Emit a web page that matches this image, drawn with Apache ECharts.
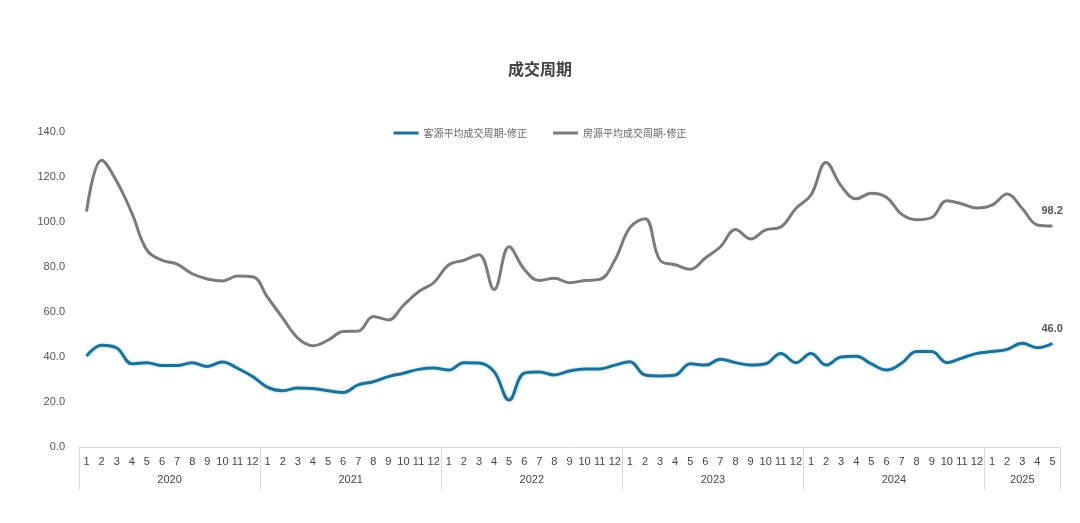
<!DOCTYPE html>
<html>
<head>
<meta charset="utf-8">
<script src="https://cdn.jsdelivr.net/npm/echarts@6/dist/echarts.min.js"></script>
<style>
  html, body { margin: 0; padding: 0; background: #fff; }
  #chart { width: 1080px; height: 523px; }
</style>
</head>
<body>
<div id="chart"></div>
<script>
// Months shown per year (2025 only through May)
const years = ['2020', '2021', '2022', '2023', '2024', '2025'];
const monthsPerYear = [12, 12, 12, 12, 12, 5];

// 客源平均成交周期-修正 (days)
const buyerCycle = [
  40.4, 45.2, 44.0, 37.0, 37.5, 36.2, 36.2, 37.5, 35.8, 37.8, 35.0, 31.3,
  26.5, 25.0, 26.2, 26.0, 25.0, 24.2, 27.6, 29.0, 31.3, 32.8, 34.5, 35.1,
  34.2, 37.5, 37.3, 33.5, 20.9, 32.8, 33.3, 32.0, 33.8, 34.7, 34.7, 36.4,
  37.9, 32.0, 31.6, 32.0, 37.0, 36.4, 39.0, 37.5, 36.4, 37.0, 41.6, 37.5,
  41.6, 36.4, 40.0, 40.3, 36.9, 34.2, 37.2, 42.4, 42.4, 37.5, 39.5, 41.6,
  42.4, 43.4, 46.1, 44.1, 46.0
];

// 房源平均成交周期-修正 (days)
const listingCycle = [
  104.6, 127.5, 118.0, 104.0, 87.5, 83.0, 81.3, 77.0, 74.7, 73.8, 76.0, 75.7,
  66.5, 57.3, 48.4, 45.0, 47.5, 51.3, 51.5, 58.0, 56.5, 63.0, 69.0, 73.0,
  81.0, 83.0, 85.5, 70.0, 89.0, 79.0, 74.0, 75.0, 73.0, 74.0, 74.5, 83.0,
  97.5, 101.5, 83.0, 81.0, 79.0, 84.0, 89.0, 96.7, 92.5, 96.5, 97.8, 106.0,
  112.0, 126.4, 116.0, 110.3, 112.8, 111.0, 103.5, 101.0, 102.0, 109.5, 108.0, 106.2,
  107.5, 112.4, 106.0, 98.7, 98.2
];

const yTicks = [0, 20, 40, 60, 80, 100, 120, 140];

// Month category labels built from the year layout
const monthLabels = [];
const yearStarts = [0];
const yearCenters = [];
monthsPerYear.forEach((n, k) => {
  yearCenters.push(yearStarts[k] + n / 2);
  for (let m = 1; m <= n; m++) monthLabels.push(String(m));
  yearStarts.push(yearStarts[k] + n);
});

// Value of the latest month, written just above the line end
const latestLabel = {
  show: true,
  distance: 0,
  offset: [-11, -15],
  color: '#555',
  fontSize: 11,
  fontWeight: 'bold',
  fontFamily: 'Liberation Sans, Arial, sans-serif',
  formatter: (p) => Number(p.value).toFixed(1)
};

const chart = echarts.init(document.getElementById('chart'));
chart.setOption({
  backgroundColor: '#ffffff',
  animation: false,
  title: {
    text: '成交周期',
    left: 'center',
    top: 56,
    textStyle: { fontSize: 16, fontWeight: 'bold', color: '#444', fontFamily: 'Noto Sans CJK SC' }
  },
  legend: {
    top: 123,
    left: 'center',
    itemWidth: 25,
    itemHeight: 3,
    itemGap: 26,
    icon: 'rect',
    textStyle: { fontSize: 10, color: '#666', fontFamily: 'Noto Sans CJK SC' },
    data: ['客源平均成交周期-修正', '房源平均成交周期-修正']
  },
  grid: { left: 79, right: 20, top: 132, bottom: 76 },
  xAxis: [
    {
      type: 'category',
      data: monthLabels,
      boundaryGap: true,
      axisLine: { show: true, lineStyle: { color: '#d9d9d9', width: 1 } },
      axisTick: { show: false },
      axisLabel: {
        interval: 0,
        margin: 9,
        fontSize: 11,
        color: '#444',
        fontFamily: 'Liberation Sans, Arial, sans-serif'
      }
    },
    {
      // Year grouping row with separators at year boundaries
      type: 'value',
      position: 'bottom',
      min: 0,
      max: monthLabels.length,
      axisLine: { show: false },
      splitLine: { show: false },
      axisTick: {
        show: true,
        customValues: yearStarts,
        length: 43,
        lineStyle: { color: '#d9d9d9', width: 1 }
      },
      axisLabel: {
        customValues: yearCenters,
        margin: 27,
        fontSize: 11,
        color: '#444',
        fontFamily: 'Liberation Sans, Arial, sans-serif',
        formatter: (v) => {
          const k = yearCenters.findIndex((c) => Math.abs(c - v) < 1e-6);
          return k >= 0 ? years[k] : '';
        }
      }
    }
  ],
  yAxis: {
    type: 'value',
    min: yTicks[0],
    max: yTicks[yTicks.length - 1],
    interval: 20,
    axisLine: { show: false },
    axisTick: { show: false },
    splitLine: { show: false },
    axisLabel: {
      margin: 14,
      fontSize: 11,
      color: '#555',
      fontFamily: 'Liberation Sans, Arial, sans-serif',
      formatter: (v) => v.toFixed(1)
    }
  },
  series: [
    {
      name: '客源平均成交周期-修正',
      type: 'line',
      xAxisIndex: 0,
      data: buyerCycle,
      smooth: 0.4,
      symbol: 'none',
      color: '#1f6f97',
      lineStyle: {
        width: 3,
        color: '#1f6f97',
        shadowColor: 'rgba(90, 200, 235, 0.6)',
        shadowBlur: 3
      },
      endLabel: latestLabel,
      z: 3
    },
    {
      name: '房源平均成交周期-修正',
      type: 'line',
      xAxisIndex: 0,
      data: listingCycle,
      smooth: 0.4,
      symbol: 'none',
      color: '#7b7b7b',
      lineStyle: { width: 3, color: '#7b7b7b' },
      endLabel: latestLabel,
      z: 2
    }
  ]
});
</script>
</body>
</html>
